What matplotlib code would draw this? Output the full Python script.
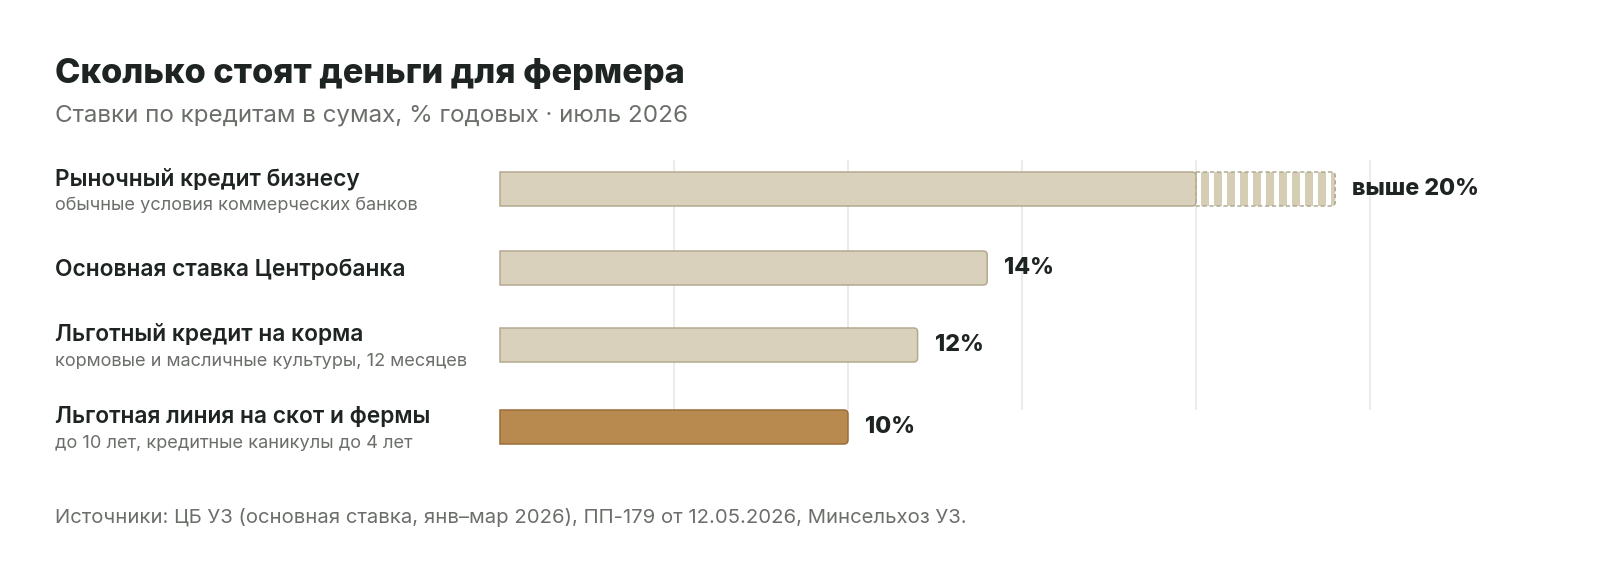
import matplotlib.pyplot as plt
import numpy as np
from matplotlib.path import Path
from matplotlib.patches import PathPatch

plt.rcParams['font.family'] = ['Inter', 'DejaVu Sans']

# data
row_titles = ['Рыночный кредит бизнесу', 'Основная ставка Центробанка',
              'Льготный кредит на корма', 'Льготная линия на скот и фермы']
row_notes = ['обычные условия коммерческих банков', '',
             'кормовые и масличные культуры, 12 месяцев',
             'до 10 лет, кредитные каникулы до 4 лет']
rates = [20, 14, 12, 10]
rate_labels = ['выше 20%', '14%', '12%', '10%']
market_upper = 24          # "выше 20%" tail drawn up to here
grid_at = [5, 10, 15, 20, 25]

title = 'Сколько стоят деньги для фермера'
subtitle = 'Ставки по кредитам в сумах, % годовых · июль 2026'
source = 'Источники: ЦБ УЗ (основная ставка, янв–мар 2026), ПП-179 от 12.05.2026, Минсельхоз УЗ.'

# layout (pixels)
W, H = 1600, 564
X0 = 500        # where 0 % sits
PX = 34.8       # pixels per percentage point
rows_y = [189, 268, 345, 427]
BAR_H = 34
R = 4

DARK = '#1e2422'
GREY = '#6b6f6a'
fills = ['#d9d1bb', '#d9d1bb', '#d9d1bb', '#b98a4f']
edges = ['#b2a98f', '#b2a98f', '#b2a98f', '#9a6e38']

fig = plt.figure(figsize=(W / 100, H / 100), dpi=100)
fig.patch.set_facecolor('white')
ax = fig.add_axes([0, 0, 1, 1])
ax.set_xlim(-X0 / PX, (W - X0) / PX)
ax.set_ylim(H, 0)
ax.axis('off')


def rounded(x, y, w, h):
    # square left side, rounded right corners (circular in pixels)
    rx, ry = R / PX, R
    x1 = x + w
    verts = [(x, y), (x1 - rx, y), (x1, y), (x1, y + ry), (x1, y + h - ry),
             (x1, y + h), (x1 - rx, y + h), (x, y + h), (x, y)]
    codes = [Path.MOVETO, Path.LINETO, Path.CURVE3, Path.CURVE3, Path.LINETO,
             Path.CURVE3, Path.CURVE3, Path.LINETO, Path.CLOSEPOLY]
    return Path(verts, codes)


ax.vlines(grid_at, 160, 410, color='#ebe8e2', lw=1.2, zorder=0)

bars = ax.barh(rows_y, rates, height=BAR_H)
for rect, fc, ec in zip(bars, fills, edges):
    p = PathPatch(rounded(rect.get_x(), rect.get_y(), rect.get_width(), rect.get_height()),
                  facecolor=fc, edgecolor=ec, lw=1.1, zorder=3)
    ax.add_patch(p)
    rect.set_visible(False)

# striped tail for the market rate
tail = ax.barh(rows_y[0], market_upper - rates[0], left=rates[0], height=BAR_H)[0]
tail.set_visible(False)
tail_path = rounded(tail.get_x(), tail.get_y(), tail.get_width(), tail.get_height())
ax.add_patch(PathPatch(tail_path, facecolor='white', edgecolor='none', zorder=2))
period = 13 / PX
lefts = np.arange(rates[0] + 5 / PX, market_upper, period)
stripes = ax.barh([rows_y[0]] * len(lefts), [8 / PX] * len(lefts), left=lefts,
                  height=BAR_H, color='#d6cdb5', zorder=2.5)
for s in stripes:
    s.set_clip_path(PathPatch(tail_path, transform=ax.transData))
ax.add_patch(PathPatch(tail_path, facecolor='none', edgecolor='#a9a28d', lw=1.0,
                       ls=(0, (3, 2)), zorder=2.8))

ends = [market_upper] + rates[1:]
for y, e, t in zip(rows_y, ends, rate_labels):
    ax.text(e + 17 / PX, y, t, ha='left', va='center', fontsize=16.7,
            fontweight='heavy', color=DARK, zorder=4)


def ftext(px, py, s, **kw):
    fig.text(px / W, 1 - py / H, s, **kw)


for y, t, n in zip(rows_y, row_titles, row_notes):
    if n:
        ftext(55, y - 4, t, fontsize=16.4, fontweight='semibold', color=DARK, va='baseline')
        ftext(55, y + 21, n, fontsize=13.1, color=GREY, va='baseline')
    else:
        ftext(55, y + 8, t, fontsize=16.4, fontweight='semibold', color=DARK, va='baseline')

ftext(55, 83, title, fontsize=24.7, fontweight='heavy', color=DARK, va='baseline')
ftext(55, 122, subtitle, fontsize=17.4, color=GREY, va='baseline')
ftext(55, 523, source, fontsize=14.6, color=GREY, va='baseline')

fig.savefig('out.png', dpi=100, facecolor='white')
